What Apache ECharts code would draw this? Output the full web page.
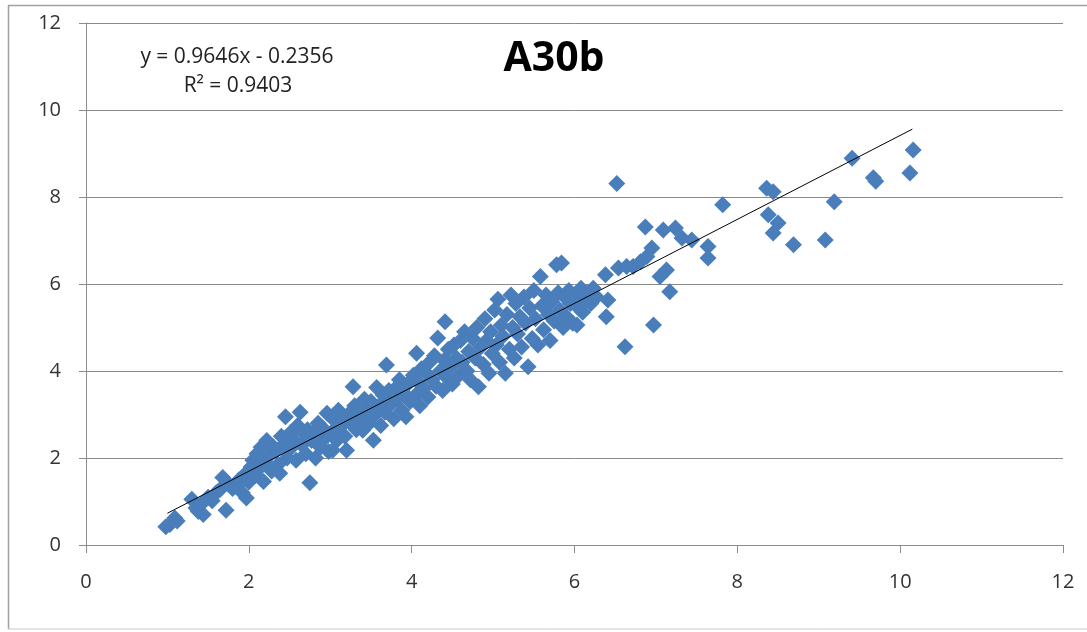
<!DOCTYPE html>
<html lang="en">
<head>
    <meta charset="UTF-8">
    <title>A30b</title>
    <style>
        html, body { margin: 0; padding: 0; background: #fff; }
    </style>
</head>
<body>
<div id="demo" style="width:1087px;height:632px"></div>
<script src="https://cdn.jsdelivr.net/npm/echarts@6/dist/echarts.min.js"></script>
<script type="text/javascript">

    // measured points, grouped by x range
    var groupA = [[0.98,0.42],[1.03,0.47],[1.09,0.62],[1.12,0.55],[1.30,1.05],[1.35,0.85],[1.38,0.77],[1.44,0.70],
        [1.42,0.95],[1.50,1.10],[1.55,1.02],[1.60,1.20],[1.65,1.28],[1.68,1.55],[1.72,0.80],[1.75,1.40],[1.80,1.30],
        [1.85,1.35],[1.88,1.50],[1.92,1.20],[1.97,1.08],[1.95,1.62],[2.00,1.45]];
    var groupB = [[2.03,1.80],[2.05,1.95],[2.08,1.60],[2.10,2.10],[2.12,1.75],[2.15,2.25],[2.18,1.46],[2.20,1.90],
        [2.22,2.40],[2.25,2.05],[2.28,1.70],[2.30,2.26],[2.33,2.15],[2.36,1.85],[2.38,1.65],[2.40,2.50],[2.42,2.30],
        [2.45,2.95],[2.47,2.00],[2.50,2.20],[2.52,2.60],[2.55,2.41],[2.58,1.95],[2.60,2.75],[2.63,3.05],[2.65,2.30],
        [2.68,2.55],[2.70,2.10],[2.72,2.65],[2.75,1.43],[2.77,2.40],[2.79,2.57],[2.82,2.00],[2.85,2.80],[2.88,2.25],
        [2.90,2.70],[2.93,2.45],[2.96,3.03],[2.98,2.15]];
    var groupC = [[3.02,2.60],[3.03,2.18],[3.06,2.85],[3.08,2.40],[3.10,3.10],[3.12,2.70],[3.15,2.95],[3.18,2.50],
        [3.20,2.18],[3.22,3.00],[3.25,2.80],[3.28,3.64],[3.30,3.20],[3.32,2.65],[3.35,3.05],[3.38,2.90],[3.40,2.64],
        [3.42,3.35],[3.45,3.10],[3.48,2.80],[3.50,3.30],[3.53,2.41],[3.55,3.00],[3.57,3.62],[3.60,3.20],[3.62,2.75],
        [3.65,3.45],[3.67,3.05],[3.69,4.14],[3.72,3.55],[3.75,3.25],[3.78,2.90],[3.80,3.60],[3.82,3.35],[3.85,3.80],
        [3.88,3.10],[3.90,3.50],[3.93,2.95],[3.95,3.70],[3.98,3.30]];
    var groupD = [[4.02,3.90],[4.05,3.45],[4.06,4.41],[4.08,3.75],[4.10,3.20],[4.12,4.05],[4.15,3.60],[4.18,3.95],
        [4.20,3.40],[4.22,4.20],[4.25,3.80],[4.28,4.35],[4.30,3.65],[4.32,4.76],[4.35,4.00],[4.38,3.55],[4.40,4.25],
        [4.41,5.13],[4.43,3.85],[4.45,4.50],[4.48,4.10],[4.50,3.70],[4.52,4.60],[4.55,4.30],[4.58,3.90],[4.60,4.70],
        [4.62,4.20],[4.65,4.90],[4.68,4.00],[4.70,4.45],[4.72,3.80],[4.75,4.75],[4.78,4.30],[4.80,5.00],[4.82,3.64],
        [4.85,4.55],[4.88,4.15],[4.90,5.20],[4.92,4.70],[4.95,3.95],[4.97,4.90],[4.99,4.40]];
    var groupE = [[5.02,5.40],[5.04,4.60],[5.06,5.65],[5.08,4.20],[5.10,5.05],[5.12,4.80],[5.15,3.95],[5.17,5.30],
        [5.20,4.50],[5.22,5.75],[5.24,5.00],[5.26,4.30],[5.28,5.55],[5.30,4.85],[5.33,5.25],[5.35,4.55],[5.38,5.70],
        [5.40,5.10],[5.43,4.10],[5.45,5.45],[5.48,4.75],[5.50,5.85],[5.52,5.20],[5.55,4.60],[5.58,6.17],[5.60,5.50],
        [5.62,4.95],[5.65,5.75],[5.68,5.30],[5.70,4.70],[5.72,5.60],[5.75,5.15],[5.78,6.44],[5.80,5.80],[5.82,5.40],
        [5.84,6.48],[5.86,5.00],[5.88,5.70],[5.90,5.25],[5.93,5.85],[5.95,5.55],[5.98,5.10],[6.00,5.75],[6.03,5.06],
        [6.05,5.45],[6.08,5.90],[6.10,5.35],[6.13,5.65],[6.16,5.80],[6.20,5.55],[6.23,5.90],[6.27,5.70]];
    var groupF = [[6.38,6.21],[6.41,5.63],[6.39,5.25],[6.52,8.31],[6.54,6.37],[6.62,4.56],[6.64,6.40],[6.72,6.40],
        [6.81,6.51],[6.87,7.31],[6.89,6.63],[6.95,6.83],[6.97,5.06],[7.05,6.17],[7.09,7.24],[7.13,6.32],[7.17,5.82],
        [7.24,7.29],[7.32,7.06],[7.44,7.01],[7.64,6.86],[7.64,6.60],[7.82,7.82],[8.36,8.20],[8.44,8.12],[8.38,7.59],
        [8.50,7.40],[8.44,7.17],[8.69,6.90],[9.08,7.01],[9.19,7.89],[9.41,8.89],[9.67,8.44],[9.70,8.36],[10.12,8.55],
        [10.16,9.08]];

    // linear trend line ends (y = 0.9646x - 0.2356)
    var trendLine = [[1.0, 0.73], [10.15, 9.56]];
    var equationText = 'y = 0.9646x - 0.2356';
    var r2Text = 'R² = 0.9403';
    var xTicks = [0, 2, 4, 6, 8, 10, 12];
    var yTicks = [0, 2, 4, 6, 8, 10, 12];

    var allPoints = groupA.concat(groupB, groupC, groupD, groupE, groupF);
    var fontFam = '"Open Sans", "Noto Sans", sans-serif';

    var myChart = echarts.init(document.getElementById('demo'));
    var option = {
        backgroundColor: '#fff',
        animation: false,
        title: {
            text: 'A30b',
            left: 549,
            top: 34,
            textAlign: 'center',
            textStyle: { fontFamily: fontFam, fontSize: 41, fontWeight: 'bold', color: '#000' }
        },
        grid: { left: 86, right: 24, top: 23, bottom: 87 },
        xAxis: {
            type: 'value',
            min: xTicks[0],
            max: xTicks[xTicks.length - 1],
            interval: 2,
            axisLine: { lineStyle: { color: '#8c8c8c', width: 1 } },
            axisTick: { show: true, length: 8, lineStyle: { color: '#8c8c8c' } },
            axisLabel: { margin: 27, color: '#333', fontSize: 20, fontFamily: fontFam },
            splitLine: { show: false }
        },
        yAxis: {
            type: 'value',
            min: yTicks[0],
            max: yTicks[yTicks.length - 1],
            interval: 2,
            axisLine: { show: true, lineStyle: { color: '#8c8c8c', width: 1 } },
            axisTick: { show: true, length: 7, lineStyle: { color: '#8c8c8c' } },
            axisLabel: { margin: 25, color: '#333', fontSize: 20, fontFamily: fontFam },
            splitLine: { show: true, lineStyle: { color: '#8a8a8a', width: 1 } }
        },
        graphic: [
            { type: 'line', shape: { x1: 8.5, y1: 5, x2: 8.5, y2: 629 }, style: { stroke: '#a0a0a0', lineWidth: 1.5 } },
            { type: 'line', shape: { x1: 8, y1: 5.5, x2: 1087, y2: 5.5 }, style: { stroke: '#a0a0a0', lineWidth: 1.5 } },
            { type: 'line', shape: { x1: 8, y1: 629, x2: 1087, y2: 629 }, style: { stroke: '#c8c8c8', lineWidth: 1 } },
            { type: 'text', x: 237, y: 47, style: { text: equationText, textAlign: 'center', fontFamily: fontFam, fontSize: 21, fill: '#222' } },
            { type: 'text', x: 238, y: 76, style: { text: r2Text, textAlign: 'center', fontFamily: fontFam, fontSize: 21, fill: '#222' } }
        ],
        series: [{
            name: 'data',
            type: 'scatter',
            symbol: 'diamond',
            symbolSize: 17,
            itemStyle: { color: '#4a7ebb', opacity: 1 },
            data: allPoints
        }, {
            name: 'trend',
            type: 'line',
            symbol: 'none',
            lineStyle: { color: '#000', width: 1 },
            data: trendLine,
            z: 3
        }]
    };
    myChart.setOption(option);
</script>
</body>
</html>
